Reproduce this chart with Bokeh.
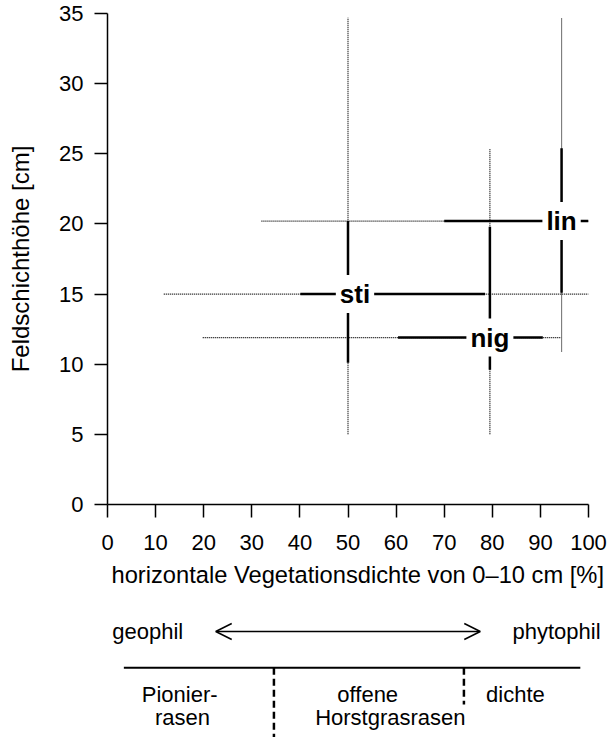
from bokeh.plotting import figure
from bokeh.models import Range1d, FixedTicker, ColumnDataSource, Arrow, OpenHead, Title
from bokeh.layouts import column
from bokeh.embed import file_html
from bokeh.resources import INLINE
from bokeh.core.properties import value

# ---------------- data ----------------
species = ["sti", "nig", "lin"]
x_median = [50.0, 79.5, 94.4]
y_median = [15.0, 11.9, 20.2]
x_q1 = [40.1, 60.4, 70.0]
x_q3 = [78.5, 90.5, 100.0]
x_min = [11.7, 19.8, 32.0]
x_max = [100.0, 94.3, 100.0]
y_q1 = [10.1, 9.6, 15.1]
y_q3 = [20.2, 19.8, 25.4]
y_min = [5.0, 5.0, 10.9]
y_max = [34.7, 25.4, 34.7]

x_ticks = [0, 10, 20, 30, 40, 50, 60, 70, 80, 90, 100]
y_ticks = [0, 5, 10, 15, 20, 25, 30, 35]

# schematic below the chart (in % of the x scale)
scale_ends = ["geophil", "phytophil"]
arrow_span = [22.5, 77.5]
scale_line_span = [3.4, 98.3]
zone_breaks = [34.6, 74.1]
zone_row1 = ["Pionier-", "offene", "dichte"]
zone_row1_x = [15.0, 54.1, 84.8]
zone_row2 = ["rasen", "Horstgrasrasen"]
zone_row2_x = [15.6, 58.8]

# ---------------- layout / style ----------------
FONT = "Liberation Sans"
W = 609
LEFT = 107
FRAME_W = 481
RIGHT = W - LEFT - FRAME_W
TOP = 13
FRAME_H = 491
H1 = 605
H2 = 737 - H1
label_shift_px = [7, 0, 0]

p = figure(width=W, height=H1, x_range=Range1d(0, 100), y_range=Range1d(0, 35),
           output_backend="svg", toolbar_location=None,
           min_border_left=LEFT, min_border_right=RIGHT, min_border_top=TOP,
           min_border_bottom=H1 - TOP - FRAME_H)
p.outline_line_color = None
p.grid.visible = False
p.background_fill_color = "white"
p.frame_align = False

# ranges (dotted)
p.segment(x0=x_min, y0=y_median, x1=x_max, y1=y_median, line_color="black",
          line_width=1.2, line_dash="1 1")
p.segment(x0=x_median, y0=y_min, x1=x_median, y1=y_max, line_color="black",
          line_width=1.2, line_dash="1 1")
# quartiles (thick)
p.segment(x0=x_q1, y0=y_median, x1=x_q3, y1=y_median, line_color="black",
          line_width=2.5, line_cap="butt")
p.segment(x0=x_median, y0=y_q1, x1=x_median, y1=y_q3, line_color="black",
          line_width=2.5, line_cap="butt")

src = ColumnDataSource(dict(x=x_median, y=y_median, name=species, dx=label_shift_px))
p.text(x="x", y="y", text="name", x_offset="dx", source=src,
       text_font=value(FONT), text_font_style="bold", text_font_size="26px",
       text_align="center", text_baseline="middle", text_color="black",
       background_fill_color="white", padding=4)

for ax in (p.xaxis, p.yaxis):
    ax.axis_line_width = 1.5
    ax.axis_line_color = "black"
    ax.major_tick_line_width = 1.5
    ax.major_tick_line_color = "black"
    ax.major_tick_out = 13
    ax.major_tick_in = 0
    ax.minor_tick_out = 0
    ax.minor_tick_in = 0
    ax.major_label_text_font = FONT
    ax.major_label_text_font_size = "22px"
    ax.major_label_text_color = "black"
    ax.axis_label_text_font = FONT
    ax.axis_label_text_font_size = "24px"
    ax.axis_label_text_font_style = "normal"
    ax.axis_label_text_color = "black"

p.xaxis.ticker = FixedTicker(ticks=x_ticks)
p.yaxis.ticker = FixedTicker(ticks=y_ticks)
p.yaxis.axis_label = "Feldschichthöhe [cm]"
p.xaxis.major_label_standoff = 17
p.yaxis.major_label_standoff = 11
p.yaxis.axis_label_standoff = 22

# x axis title (starts slightly right of the frame's left edge, as in the original)
p.add_layout(Title(text="horizontale Vegetationsdichte von 0–10 cm [%]",
                   align="left", offset=4, standoff=14,
                   text_font=FONT, text_font_size="23.7px",
                   text_font_style="normal", text_color="black"), "below")

# ---------------- schematic panel ----------------
px_per_x = FRAME_W / 100.0
x0 = 0 - LEFT / px_per_x
x1 = 100 + RIGHT / px_per_x
Y_TOP = H1
p2 = figure(width=W, height=H2, x_range=Range1d(x0, x1),
            y_range=Range1d(Y_TOP + H2, Y_TOP),
            x_axis_type=None, y_axis_type=None, output_backend="svg",
            toolbar_location=None, min_border=0, min_border_left=0,
            min_border_right=0, min_border_top=0, min_border_bottom=0)
p2.outline_line_color = None
p2.background_fill_color = "white"
p2.frame_align = False

ARROW_Y = 631
BASE_ENDS = 631
LINE_Y = 667.3
ROW1 = 694
ROW2 = 717

p2.text(x=[1.0], y=[BASE_ENDS], text=scale_ends[:1],
        text_font=value(FONT), text_font_size="22px", text_align="left",
        text_baseline="alphabetic", text_color="black")
p2.text(x=[102.5], y=[BASE_ENDS], text=scale_ends[1:],
        text_font=value(FONT), text_font_size="22px", text_align="right",
        text_baseline="alphabetic", text_color="black")
p2.add_layout(Arrow(start=OpenHead(size=16, line_width=1.5, line_color="black"),
                    end=OpenHead(size=16, line_width=1.5, line_color="black"),
                    x_start=arrow_span[0], y_start=ARROW_Y,
                    x_end=arrow_span[1], y_end=ARROW_Y,
                    line_width=1.5, line_color="black"))
p2.segment(x0=[scale_line_span[0]], y0=[LINE_Y], x1=[scale_line_span[1]], y1=[LINE_Y],
           line_color="black", line_width=2)
p2.segment(x0=zone_breaks, y0=[LINE_Y, LINE_Y], x1=zone_breaks, y1=[Y_TOP + H2, 704],
           line_color="black", line_width=2.5, line_dash="7 4")
p2.text(x=zone_row1_x, y=[ROW1] * 3, text=zone_row1,
        text_font=value(FONT), text_font_size="22px", text_align="center",
        text_baseline="alphabetic", text_color="black")
p2.text(x=zone_row2_x, y=[ROW2] * 2, text=zone_row2,
        text_font=value(FONT), text_font_size="22px", text_align="center",
        text_baseline="alphabetic", text_color="black")

layout = column(p, p2, spacing=0)
open("out.html", "w").write(file_html(layout, INLINE))
